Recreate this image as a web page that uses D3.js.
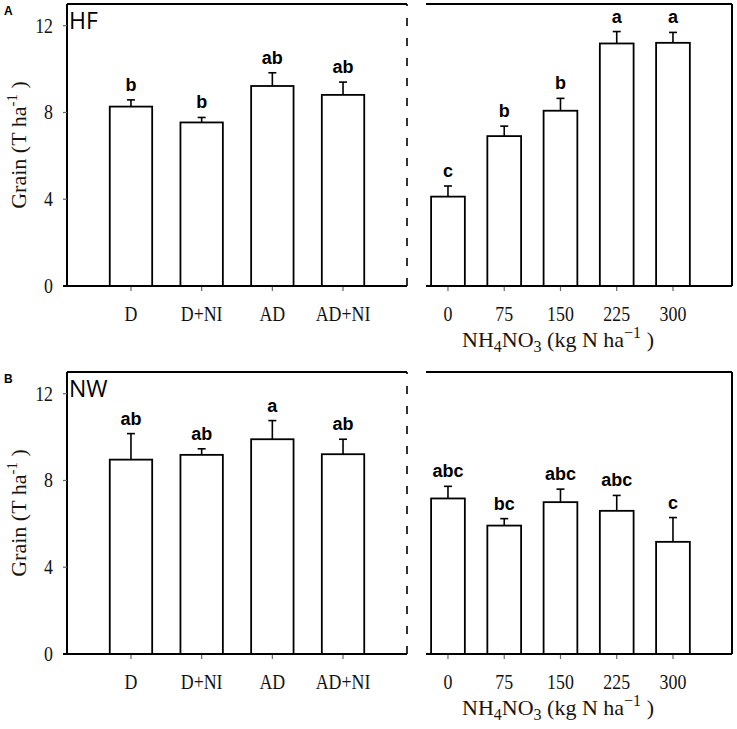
<!DOCTYPE html>
<html>
<head>
<meta charset="utf-8">
<script src="https://cdn.jsdelivr.net/npm/d3@7"></script>
<style>
  body { margin: 0; background: #fff; }
  .tick-label { font-family: 'Liberation Serif', 'Times New Roman', serif; font-size: 21px; fill: #111; }
  .axis-title { font-family: 'Liberation Serif', 'Times New Roman', serif; font-size: 22px; fill: #1a1410; }
  .sig { font-family: 'Liberation Sans', Arial, sans-serif; font-size: 18px; font-weight: bold; fill: #000; }
  .site { font-family: 'Open Sans', 'Noto Sans', sans-serif; font-size: 23px; fill: #000; }
  .panel-tag { font-family: 'Liberation Sans', Arial, sans-serif; font-size: 12px; font-weight: bold; fill: #000; }
</style>
</head>
<body>
<script>
// Treatments (left panels) and N rates (right panels)
const treatments = ['D', 'D+NI', 'AD', 'AD+NI']
const rates = [0, 75, 150, 225, 300]
const yTicks = [0, 4, 8, 12]

// HF site
const hfTrt = [8.27, 7.54, 9.22, 8.81]
const hfTrtErr = [0.31, 0.23, 0.61, 0.59]
const hfTrtSig = ['b', 'b', 'ab', 'ab']
const hfRate = [4.12, 6.91, 8.08, 11.18, 11.21]
const hfRateErr = [0.49, 0.46, 0.57, 0.55, 0.48]
const hfRateSig = ['c', 'b', 'b', 'a', 'a']

// NW site
const nwTrt = [8.96, 9.18, 9.90, 9.21]
const nwTrtErr = [1.20, 0.28, 0.86, 0.69]
const nwTrtSig = ['ab', 'ab', 'a', 'ab']
const nwRate = [7.17, 5.92, 7.00, 6.60, 5.17]
const nwRateErr = [0.56, 0.32, 0.60, 0.71, 1.12]
const nwRateSig = ['abc', 'bc', 'abc', 'abc', 'c']

const W = 737
const H = 729
const svg = d3.select('body').append('svg')
  .attr('width', W)
  .attr('height', H)

// panel geometry
const leftX = [67, 407]
const rightX = [426, 732]
const rows = [
  { tag: 'A', site: 'HF', top: 4, bottom: 286,
    trt: hfTrt, trtErr: hfTrtErr, trtSig: hfTrtSig,
    rate: hfRate, rateErr: hfRateErr, rateSig: hfRateSig },
  { tag: 'B', site: 'NW', top: 372, bottom: 654,
    trt: nwTrt, trtErr: nwTrtErr, trtSig: nwTrtSig,
    rate: nwRate, rateErr: nwRateErr, rateSig: nwRateSig }
]

const xTrt = d3.scaleLinear().domain([-0.905, 3.905]).range(leftX)
const xRate = d3.scaleLinear().domain([-29.3, 378.7]).range(rightX)
const trtHalf = 0.3
const rateHalf = 22.5

// squeezed serif text (the source fonts are narrow)
function serifText (g, x, y, txt, anchor, cls) {
  return g.append('text')
    .attr('class', cls || 'tick-label')
    .attr('text-anchor', anchor || 'middle')
    .attr('transform', `translate(${x},${y}) scale(0.85,1)`)
    .text(txt)
}

function drawBars (g, xs, values, errs, sig, half, y) {
  const bars = g.append('g').attr('class', 'bars')
  values.forEach((v, i) => {
    const cx = xs.value[i]
    const x0 = xs.scale(cx - half)
    const x1 = xs.scale(cx + half)
    const yTop = y(v)
    const yErr = y(v + errs[i])
    const px = xs.scale(cx)

    // error bar (upper only)
    bars.append('line')
      .attr('x1', px).attr('x2', px)
      .attr('y1', yTop).attr('y2', yErr)
      .attr('stroke', '#000').attr('stroke-width', 1.6)
    bars.append('line')
      .attr('x1', px - 4).attr('x2', px + 4)
      .attr('y1', yErr).attr('y2', yErr)
      .attr('stroke', '#000').attr('stroke-width', 1.6)

    bars.append('rect')
      .attr('x', x0)
      .attr('y', yTop)
      .attr('width', x1 - x0)
      .attr('height', y(0) - yTop)
      .attr('fill', '#fff')
      .attr('stroke', '#000')
      .attr('stroke-width', 1.8)

    bars.append('text')
      .attr('class', 'sig')
      .attr('x', px)
      .attr('y', yErr - 9)
      .attr('text-anchor', 'middle')
      .text(sig[i])

    // x tick
    bars.append('line')
      .attr('x1', px).attr('x2', px)
      .attr('y1', y(0) + 1).attr('y2', y(0) + 5)
      .attr('stroke', '#666').attr('stroke-width', 1.2)
  })
}

rows.forEach((row, r) => {
  const g = svg.append('g').attr('class', 'row-' + r)
  const y = d3.scaleLinear().domain([0, 13]).range([row.bottom, row.top])

  // left panel frame: solid left and top, dashed right
  g.append('line')
    .attr('x1', leftX[0]).attr('x2', leftX[1])
    .attr('y1', row.top).attr('y2', row.top)
    .attr('stroke', '#000').attr('stroke-width', 2)
  g.append('line')
    .attr('x1', leftX[0]).attr('x2', leftX[0])
    .attr('y1', row.top).attr('y2', row.bottom)
    .attr('stroke', '#000').attr('stroke-width', 2)
  g.append('line')
    .attr('x1', leftX[1]).attr('x2', leftX[1])
    .attr('y1', row.top).attr('y2', row.bottom)
    .attr('stroke', '#000').attr('stroke-width', 1.6)
    .attr('stroke-dasharray', '8,12')
    .attr('stroke-dashoffset', 6)

  // right panel frame: top and right
  g.append('line')
    .attr('x1', rightX[0]).attr('x2', rightX[1])
    .attr('y1', row.top).attr('y2', row.top)
    .attr('stroke', '#000').attr('stroke-width', 2)
  g.append('line')
    .attr('x1', rightX[1]).attr('x2', rightX[1])
    .attr('y1', row.top).attr('y2', row.bottom)
    .attr('stroke', '#000').attr('stroke-width', 2)

  // y ticks + labels
  yTicks.forEach(t => {
    g.append('line')
      .attr('x1', leftX[0] - 4).attr('x2', leftX[0])
      .attr('y1', y(t)).attr('y2', y(t))
      .attr('stroke', '#666').attr('stroke-width', 1.2)
    serifText(g, leftX[0] - 14, y(t) + 7, t, 'end')
  })

  // bars
  drawBars(g, { scale: xTrt, value: treatments.map((d, i) => i) },
    row.trt, row.trtErr, row.trtSig, trtHalf, y)
  drawBars(g, { scale: xRate, value: rates },
    row.rate, row.rateErr, row.rateSig, rateHalf, y)

  // baselines drawn over the bars
  g.append('line')
    .attr('x1', leftX[0] - 4).attr('x2', leftX[1])
    .attr('y1', y(0)).attr('y2', y(0))
    .attr('stroke', '#000').attr('stroke-width', 2)
  g.append('line')
    .attr('x1', rightX[0]).attr('x2', rightX[1])
    .attr('y1', y(0)).attr('y2', y(0))
    .attr('stroke', '#000').attr('stroke-width', 2)

  // x tick labels
  treatments.forEach((d, i) => serifText(g, xTrt(i), row.bottom + 35, d))
  rates.forEach(d => serifText(g, xRate(d), row.bottom + 35, d))

  // NH4NO3 axis title
  const xt = g.append('text')
    .attr('class', 'axis-title')
    .attr('x', 558)
    .attr('y', row.bottom + 61)
    .attr('text-anchor', 'middle')
  xt.append('tspan').text('NH')
  xt.append('tspan').attr('font-size', 16).attr('dy', 5).text('4')
  xt.append('tspan').attr('dy', -5).text('NO')
  xt.append('tspan').attr('font-size', 16).attr('dy', 5).text('3')
  xt.append('tspan').attr('dy', -5).text(' (kg N ha')
  xt.append('tspan').attr('font-size', 16).attr('dy', -9).text('\u22121')
  xt.append('tspan').attr('dy', 9).text('  )')

  // y title
  const yt = g.append('text')
    .attr('class', 'axis-title')
    .attr('text-anchor', 'middle')
    .attr('transform', `translate(26,${(row.top + row.bottom) / 2}) rotate(-90)`)
  yt.append('tspan').text('Grain (T ha')
  yt.append('tspan').attr('font-size', 15).attr('dy', -9).text('-1')
  yt.append('tspan').attr('dy', 9).text(' )')

  // site name and panel tag
  g.append('text')
    .attr('class', 'site')
    .attr('x', 69)
    .attr('y', row.top + 25)
    .text(row.site)
  g.append('text')
    .attr('class', 'panel-tag')
    .attr('x', 4)
    .attr('y', row.top + 11)
    .text(row.tag)
})
</script>
</body>
</html>
